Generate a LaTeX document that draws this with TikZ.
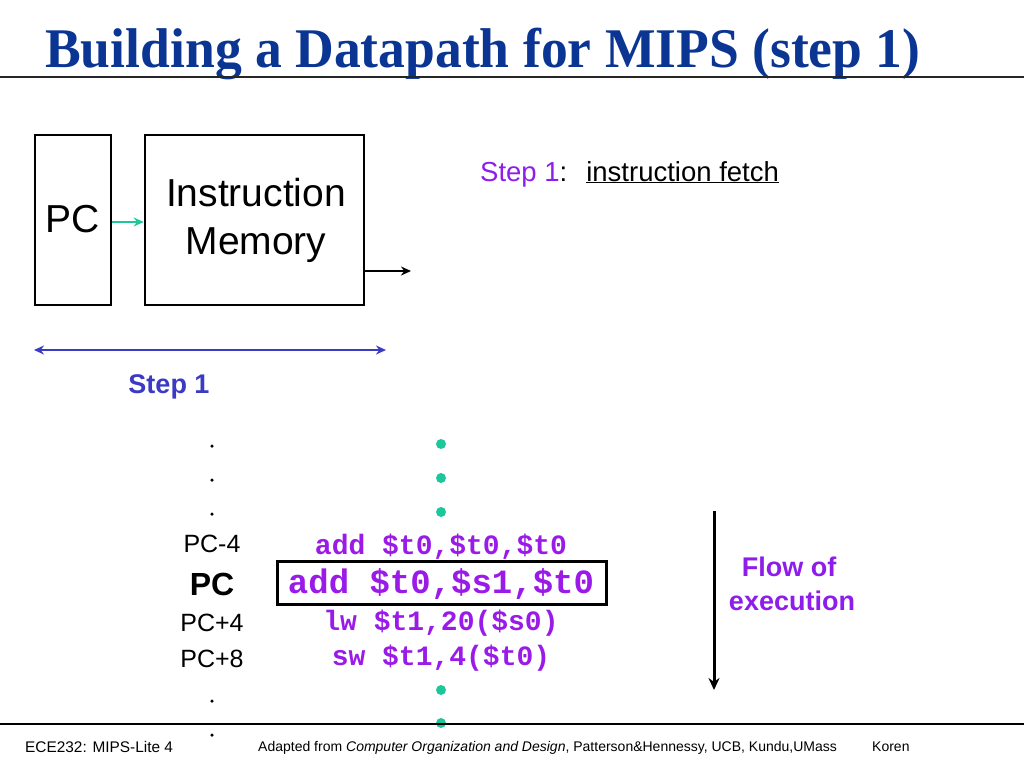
\documentclass[tikz,border=0pt]{standalone}
\usepackage{fontspec}
\setmainfont{Liberation Sans}
\newfontfamily\titlefont{Liberation Serif}
\newfontfamily\codefont{Liberation Mono}
\usetikzlibrary{arrows.meta}
\definecolor{titleblue}{HTML}{0B3593}
\definecolor{purp}{HTML}{8E1CEB}
\definecolor{codep}{HTML}{9A1AE8}
\definecolor{teal}{HTML}{1CC89A}
\definecolor{stepblue}{HTML}{3A3AC4}
\newcommand{\fs}[1]{\fontsize{#1}{#1}\selectfont}
\tikzset{
  blockbox/.style={draw=black, line width=2.6pt, inner sep=0pt},
  lbl/.style={inner sep=0pt, anchor=base},
  code/.style={inner sep=0pt, anchor=base, text=codep, font=\codefont\bfseries\fs{28}},
  gdot/.style={circle, fill=teal, minimum size=10pt, inner sep=0pt},
  sdot/.style={circle, fill=black, minimum size=3.5pt, inner sep=0pt},
}
\begin{document}
\begin{tikzpicture}[x=1pt,y=-1pt]
\useasboundingbox (0,0) rectangle (1024,768);
% title
\node[lbl, anchor=base west, text=titleblue] (title) at (45,67)
  {\titlefont\bfseries\fs{56}\scalebox{0.957}[1]{Building a Datapath for MIPS (step 1)}};
\coordinate (tl1) at (0,77);
\coordinate (tl2) at (1024,77);
\draw[line width=2.2pt, black!85] (tl1) -- (tl2);
% boxes
\node[blockbox, minimum width=76pt, minimum height=170pt] (pc) at (73,220) {};
\node[lbl] (pct) at (73,232) {\fs{39}PC};
\node[blockbox, minimum width=219pt, minimum height=170pt] (im) at (254.5,220) {};
\node[lbl] (imt1) at (256,206) {\fs{39}Instruction};
\node[lbl] (imt2) at (256,254) {\fs{39}Memory};
\coordinate (pcout) at (pc.east |- 0,222);
\coordinate (imin) at (im.west |- 0,222);
\draw[teal, line width=2.6pt, -{Stealth[length=10pt,width=9pt]}] (pcout) -- (imin);
\coordinate (imout) at (im.east |- 0,271);
\coordinate (imoutend) at (411,271);
\draw[black, line width=2.4pt, -{Stealth[length=10pt,width=9pt]}] (imout) -- (imoutend);
% step 1 arrow
\coordinate (sa1) at (34,350);
\coordinate (sa2) at (386,350);
\draw[stepblue, line width=2.6pt, {Stealth[length=10pt,width=9pt]}-{Stealth[length=10pt,width=9pt]}] (sa1) -- (sa2);
\node[lbl, text=stepblue] (step1) at (169,393) {\fs{27}\bfseries Step 1};
% step 1 description
\node[lbl, anchor=base west] (desc) at (480,181) {\fs{27.5}\textcolor{purp}{Step 1}:\hspace{19pt}\underline{instruction fetch}};
% left column
\node[sdot] (d1) at (212,446) {};
\node[sdot] (d2) at (212,480) {};
\node[sdot] (d3) at (212,514) {};
\node[lbl] (pcm4) at (212,552) {\fs{25}PC-4};
\node[lbl] (pcb) at (212,595) {\fs{32}\bfseries PC};
\node[lbl] (pcp4) at (212,631) {\fs{25}PC+4};
\node[lbl] (pcp8) at (212,667) {\fs{25}PC+8};
\node[sdot] (d4) at (212,701) {};
\node[sdot] (d5) at (212,735) {};
% middle column
\node[gdot] (g1) at (441,444) {};
\node[gdot] (g2) at (441,478) {};
\node[gdot] (g3) at (441,512) {};
\node[code] (c1) at (441,554) {add \$t0,\$t0,\$t0};
\node[draw=black, line width=3pt, minimum width=329pt, minimum height=43pt, inner sep=0pt] (cbox) at (441.5,582.5) {};
\node[code, font=\codefont\bfseries\fs{34}] (c2) at (441,593) {add \$t0,\$s1,\$t0};
\node[code] (c3) at (441,630) {lw \$t1,20(\$s0)};
\node[code] (c4) at (441,665) {sw \$t1,4(\$t0)};
\node[gdot] (g4) at (441,690) {};
\node[gdot] (g5) at (441,723) {};
% flow
\coordinate (f1) at (714,511);
\coordinate (f2) at (714,690);
\draw[black, line width=3pt, -{Stealth[length=12pt,width=11pt]}] (f1) -- (f2);
\node[lbl, text=purp] (flow1) at (789,576) {\fs{27}\bfseries Flow of};
\node[lbl, text=purp] (flow2) at (792,610) {\fs{27}\bfseries execution};
% footer
\coordinate (fl1) at (0,724);
\coordinate (fl2) at (1024,724);
\draw[line width=1.8pt, black] (fl1) -- (fl2);
\node[lbl, anchor=base west] (ft1) at (25,752) {\fs{15.4}ECE232: MIPS-Lite 4};
\node[lbl, anchor=base west] (ft2) at (258,751) {\fs{14}Adapted from \textit{Computer Organization and Design}, Patterson\&Hennessy, UCB, Kundu,UMass};
\node[lbl, anchor=base west] (ft3) at (872,751) {\fs{14}Koren};
\end{tikzpicture}
\end{document}
